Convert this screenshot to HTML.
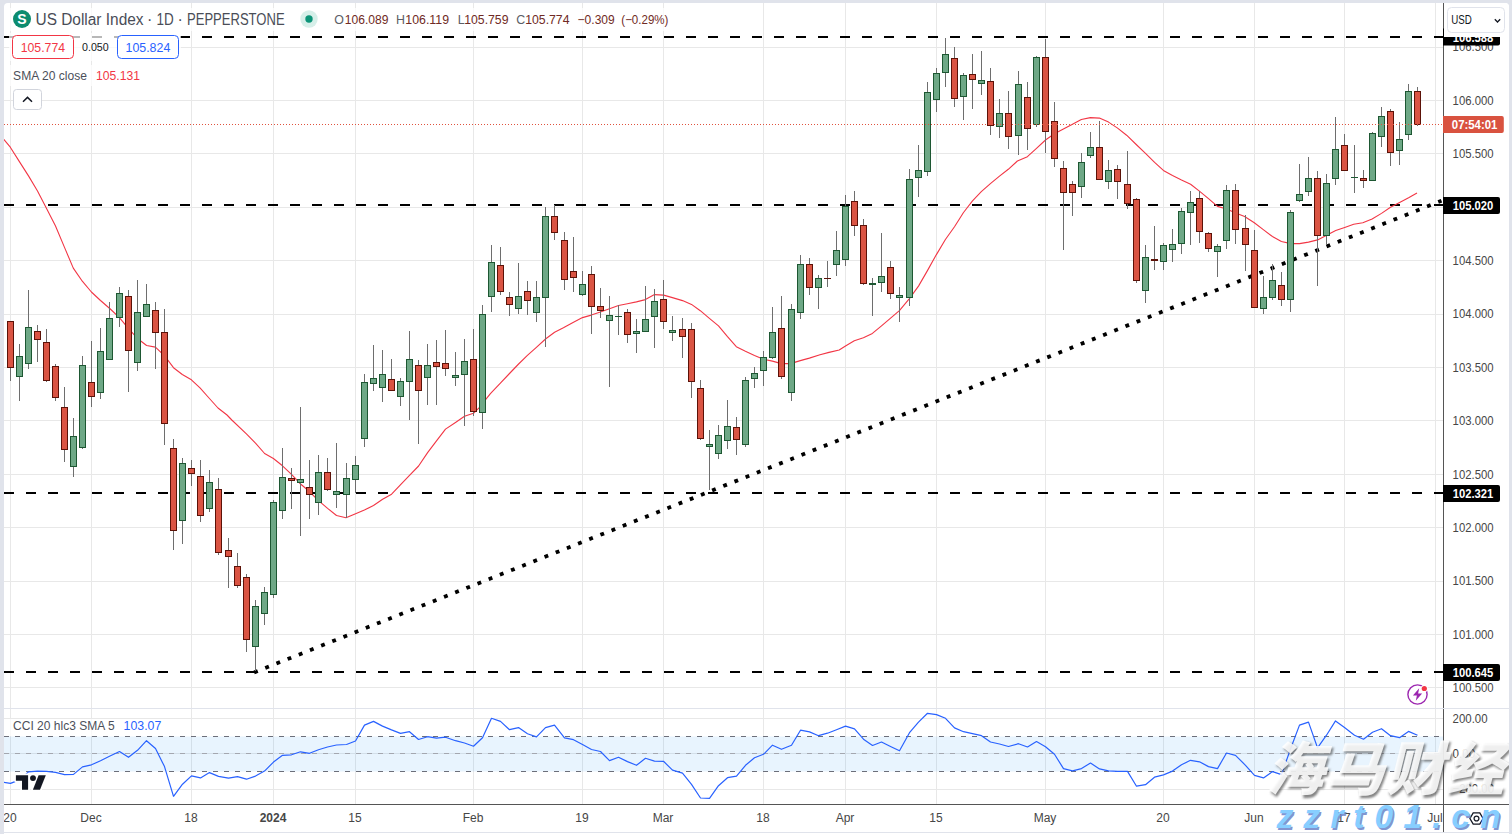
<!DOCTYPE html>
<html lang="en"><head><meta charset="utf-8"><title>US Dollar Index chart</title>
<style>
html,body{margin:0;padding:0;background:#e0e3eb;}
body{width:1512px;height:834px;overflow:hidden;position:relative;font-family:"Liberation Sans", Arial, sans-serif;}
svg{position:absolute;left:0;top:0;display:block}
text{font-family:"Liberation Sans", Arial, sans-serif;}
.ax{font-size:12.7px;fill:#464646}
.axb{font-size:12.4px;fill:#fff;font-weight:bold}
.tl{font-size:12px;fill:#464646;text-anchor:middle}
</style></head><body>
<svg width="1512" height="834" viewBox="0 0 1512 834">
<defs>
<clipPath id="cpMain"><rect x="4" y="3" width="1439.5" height="705.5"/></clipPath>
<clipPath id="cpCci"><rect x="4" y="708.5" width="1439.5" height="96.0"/></clipPath>
<clipPath id="cpTime"><rect x="4" y="804.5" width="1439.5" height="27.5"/></clipPath>
<clipPath id="cpAll"><path d="M4 834V7a4 4 0 0 1 4 -4H1505a4 4 0 0 1 4 4V834z"/></clipPath>
</defs>
<rect x="0" y="0" width="1512" height="834" fill="#e0e3eb"/>
<path d="M4 834V7a4 4 0 0 1 4 -4H1505a4 4 0 0 1 4 4V834z" fill="#fff"/>
<line x1="4" y1="832.5" x2="1509" y2="832.5" stroke="#e0e3eb" stroke-width="1" shape-rendering="crispEdges"/>

<g shape-rendering="crispEdges">
<line x1="10.5" y1="3" x2="10.5" y2="804.5" stroke="#e8e8e8" stroke-width="1"/>
<line x1="91.5" y1="3" x2="91.5" y2="804.5" stroke="#e8e8e8" stroke-width="1"/>
<line x1="191.5" y1="3" x2="191.5" y2="804.5" stroke="#e8e8e8" stroke-width="1"/>
<line x1="273.5" y1="3" x2="273.5" y2="804.5" stroke="#e8e8e8" stroke-width="1"/>
<line x1="355.5" y1="3" x2="355.5" y2="804.5" stroke="#e8e8e8" stroke-width="1"/>
<line x1="473.5" y1="3" x2="473.5" y2="804.5" stroke="#e8e8e8" stroke-width="1"/>
<line x1="582.5" y1="3" x2="582.5" y2="804.5" stroke="#e8e8e8" stroke-width="1"/>
<line x1="663.5" y1="3" x2="663.5" y2="804.5" stroke="#e8e8e8" stroke-width="1"/>
<line x1="763.5" y1="3" x2="763.5" y2="804.5" stroke="#e8e8e8" stroke-width="1"/>
<line x1="845.5" y1="3" x2="845.5" y2="804.5" stroke="#e8e8e8" stroke-width="1"/>
<line x1="936.5" y1="3" x2="936.5" y2="804.5" stroke="#e8e8e8" stroke-width="1"/>
<line x1="1045.5" y1="3" x2="1045.5" y2="804.5" stroke="#e8e8e8" stroke-width="1"/>
<line x1="1163.5" y1="3" x2="1163.5" y2="804.5" stroke="#e8e8e8" stroke-width="1"/>
<line x1="1254.5" y1="3" x2="1254.5" y2="804.5" stroke="#e8e8e8" stroke-width="1"/>
<line x1="1344.5" y1="3" x2="1344.5" y2="804.5" stroke="#e8e8e8" stroke-width="1"/>
<line x1="1435.5" y1="3" x2="1435.5" y2="804.5" stroke="#e8e8e8" stroke-width="1"/>
<line x1="4" y1="47.5" x2="1443.5" y2="47.5" stroke="#e8e8e8" stroke-width="1"/>
<line x1="4" y1="100.5" x2="1443.5" y2="100.5" stroke="#e8e8e8" stroke-width="1"/>
<line x1="4" y1="153.5" x2="1443.5" y2="153.5" stroke="#e8e8e8" stroke-width="1"/>
<line x1="4" y1="207.5" x2="1443.5" y2="207.5" stroke="#e8e8e8" stroke-width="1"/>
<line x1="4" y1="260.5" x2="1443.5" y2="260.5" stroke="#e8e8e8" stroke-width="1"/>
<line x1="4" y1="314.5" x2="1443.5" y2="314.5" stroke="#e8e8e8" stroke-width="1"/>
<line x1="4" y1="367.5" x2="1443.5" y2="367.5" stroke="#e8e8e8" stroke-width="1"/>
<line x1="4" y1="420.5" x2="1443.5" y2="420.5" stroke="#e8e8e8" stroke-width="1"/>
<line x1="4" y1="474.5" x2="1443.5" y2="474.5" stroke="#e8e8e8" stroke-width="1"/>
<line x1="4" y1="527.5" x2="1443.5" y2="527.5" stroke="#e8e8e8" stroke-width="1"/>
<line x1="4" y1="581.5" x2="1443.5" y2="581.5" stroke="#e8e8e8" stroke-width="1"/>
<line x1="4" y1="634.5" x2="1443.5" y2="634.5" stroke="#e8e8e8" stroke-width="1"/>
<line x1="4" y1="687.5" x2="1443.5" y2="687.5" stroke="#e8e8e8" stroke-width="1"/>
<line x1="4" y1="718.5" x2="1443.5" y2="718.5" stroke="#e8e8e8" stroke-width="1"/>
<line x1="4" y1="753.5" x2="1443.5" y2="753.5" stroke="#e8e8e8" stroke-width="1"/>
<line x1="4" y1="789.5" x2="1443.5" y2="789.5" stroke="#e8e8e8" stroke-width="1"/>
</g>
<g clip-path="url(#cpMain)">
<line x1="4" y1="37" x2="1443.5" y2="37" stroke="#000" stroke-width="2" stroke-dasharray="10 12"/>
<line x1="4" y1="205" x2="1443.5" y2="205" stroke="#000" stroke-width="2" stroke-dasharray="10 12"/>
<line x1="4" y1="493" x2="1443.5" y2="493" stroke="#000" stroke-width="2" stroke-dasharray="10 12"/>
<line x1="4" y1="672" x2="1443.5" y2="672" stroke="#000" stroke-width="2" stroke-dasharray="10 12"/>
<polyline points="3.5,138.9 10.3,147.2 19.4,161.6 28.5,175.9 37.5,191.0 46.3,208.1 55.4,225.8 64.5,247.4 73.3,268.1 82.3,281.2 91.4,292.0 100.5,300.5 110.3,309.0 119.4,317.6 128.4,328.4 137.5,338.5 146.6,345.5 155.4,347.1 164.4,355.6 173.5,367.7 182.3,374.5 191.4,379.8 200.0,387.9 209.0,398.0 218.0,408.0 227.0,415.0 231.8,420.0 246.4,433.9 255.5,443.2 264.6,453.5 273.4,458.5 282.5,465.8 291.5,474.4 300.6,484.0 309.4,491.5 318.5,500.6 327.6,508.4 336.5,515.5 346.0,517.7 355.6,513.8 364.4,510.1 373.5,505.5 382.6,499.2 391.6,494.2 400.4,484.9 409.5,475.3 418.6,466.0 427.6,452.6 436.5,440.8 445.5,429.1 455.5,422.5 464.5,416.3 473.5,413.3 479.0,407.8 490.4,393.7 500.4,383.1 509.5,373.5 518.6,364.0 527.4,355.4 536.4,347.3 545.5,339.0 554.6,332.2 563.4,327.7 573.5,322.2 582.5,317.6 591.3,315.1 600.4,312.1 609.5,308.8 618.5,305.5 627.4,303.7 636.4,301.9 645.4,299.6 654.5,294.6 663.6,295.1 672.4,297.6 682.5,300.6 691.5,304.4 700.3,310.7 709.4,318.3 718.5,325.8 727.5,336.7 736.3,346.7 745.4,351.3 754.5,355.5 763.5,359.3 772.4,361.1 781.4,363.6 790.5,363.6 800.3,360.6 809.4,358.1 820.0,354.8 829.0,352.4 839.2,350.0 845.5,346.0 854.3,340.7 863.4,337.7 872.4,333.4 881.5,325.8 890.3,318.3 899.4,310.7 909.4,298.6 918.5,286.1 927.3,270.9 936.4,254.6 945.4,239.5 954.5,226.7 963.5,212.5 972.5,200.8 981.3,191.7 990.4,183.6 999.5,176.1 1008.3,169.3 1017.4,161.0 1027.4,156.7 1036.5,148.4 1045.5,140.0 1054.4,133.8 1063.4,129.1 1072.5,124.3 1081.3,119.5 1090.4,117.6 1099.4,118.1 1108.5,122.1 1117.6,128.1 1126.6,135.2 1135.7,144.0 1145.5,153.3 1154.6,162.4 1163.4,170.4 1172.5,175.5 1181.5,180.0 1190.6,184.3 1199.4,191.1 1208.5,198.6 1217.5,206.4 1226.6,209.0 1235.7,213.0 1244.6,216.5 1254.3,222.8 1263.3,229.6 1272.4,236.5 1281.4,241.5 1290.8,243.6 1299.5,243.6 1308.5,242.1 1317.6,239.9 1326.6,235.2 1335.7,230.6 1344.7,227.4 1353.7,224.3 1362.8,222.8 1372.1,219.0 1381.5,213.4 1390.5,207.2 1399.6,202.5 1408.6,197.8 1417.0,193.1" fill="none" stroke="#f23645" stroke-width="1.1" stroke-linejoin="round"/>
<line x1="254.1" y1="672.4" x2="1441.5" y2="200.8" stroke="#000" stroke-width="3.8" stroke-dasharray="3.9 8.12"/>
<g shape-rendering="crispEdges">
<line x1="10.5" y1="321" x2="10.5" y2="381" stroke="#6e6e6e" stroke-width="1"/>
<rect x="7.0" y="321" width="7" height="47" fill="#5c1208"/><rect x="8.0" y="322" width="5" height="45" fill="#da5443"/>
<line x1="19.5" y1="344" x2="19.5" y2="401" stroke="#6e6e6e" stroke-width="1"/>
<rect x="16.0" y="356" width="7" height="21" fill="#1d5732"/><rect x="17.0" y="357" width="5" height="19" fill="#6ea886"/>
<line x1="28.5" y1="290" x2="28.5" y2="369" stroke="#6e6e6e" stroke-width="1"/>
<rect x="25.0" y="327" width="7" height="37" fill="#1d5732"/><rect x="26.0" y="328" width="5" height="35" fill="#6ea886"/>
<line x1="37.5" y1="325" x2="37.5" y2="362" stroke="#6e6e6e" stroke-width="1"/>
<rect x="34.0" y="331" width="7" height="9" fill="#5c1208"/><rect x="35.0" y="332" width="5" height="7" fill="#da5443"/>
<line x1="46.5" y1="329" x2="46.5" y2="382" stroke="#6e6e6e" stroke-width="1"/>
<rect x="43.0" y="342" width="7" height="39" fill="#5c1208"/><rect x="44.0" y="343" width="5" height="37" fill="#da5443"/>
<line x1="55.5" y1="364" x2="55.5" y2="401" stroke="#6e6e6e" stroke-width="1"/>
<rect x="52.0" y="366" width="7" height="32" fill="#5c1208"/><rect x="53.0" y="367" width="5" height="30" fill="#da5443"/>
<line x1="64.5" y1="387" x2="64.5" y2="462" stroke="#6e6e6e" stroke-width="1"/>
<rect x="61.0" y="407" width="7" height="43" fill="#5c1208"/><rect x="62.0" y="408" width="5" height="41" fill="#da5443"/>
<line x1="73.5" y1="418" x2="73.5" y2="477" stroke="#6e6e6e" stroke-width="1"/>
<rect x="70.0" y="436" width="7" height="31" fill="#1d5732"/><rect x="71.0" y="437" width="5" height="29" fill="#6ea886"/>
<line x1="82.5" y1="356" x2="82.5" y2="449" stroke="#6e6e6e" stroke-width="1"/>
<rect x="79.0" y="365" width="7" height="83" fill="#1d5732"/><rect x="80.0" y="366" width="5" height="81" fill="#6ea886"/>
<line x1="91.5" y1="341" x2="91.5" y2="407" stroke="#6e6e6e" stroke-width="1"/>
<rect x="88.0" y="382" width="7" height="15" fill="#5c1208"/><rect x="89.0" y="383" width="5" height="13" fill="#da5443"/>
<line x1="100.5" y1="328" x2="100.5" y2="399" stroke="#6e6e6e" stroke-width="1"/>
<rect x="97.0" y="351" width="7" height="42" fill="#1d5732"/><rect x="98.0" y="352" width="5" height="40" fill="#6ea886"/>
<line x1="109.5" y1="302" x2="109.5" y2="360" stroke="#6e6e6e" stroke-width="1"/>
<rect x="106.0" y="318" width="7" height="42" fill="#1d5732"/><rect x="107.0" y="319" width="5" height="40" fill="#6ea886"/>
<line x1="119.5" y1="287" x2="119.5" y2="327" stroke="#6e6e6e" stroke-width="1"/>
<rect x="116.0" y="293" width="7" height="25" fill="#1d5732"/><rect x="117.0" y="294" width="5" height="23" fill="#6ea886"/>
<line x1="128.5" y1="290" x2="128.5" y2="392" stroke="#6e6e6e" stroke-width="1"/>
<rect x="125.0" y="296" width="7" height="55" fill="#5c1208"/><rect x="126.0" y="297" width="5" height="53" fill="#da5443"/>
<line x1="137.5" y1="280" x2="137.5" y2="371" stroke="#6e6e6e" stroke-width="1"/>
<rect x="134.0" y="312" width="7" height="51" fill="#1d5732"/><rect x="135.0" y="313" width="5" height="49" fill="#6ea886"/>
<line x1="146.5" y1="284" x2="146.5" y2="317" stroke="#6e6e6e" stroke-width="1"/>
<rect x="143.0" y="304" width="7" height="13" fill="#1d5732"/><rect x="144.0" y="305" width="5" height="11" fill="#6ea886"/>
<line x1="155.5" y1="302" x2="155.5" y2="369" stroke="#6e6e6e" stroke-width="1"/>
<rect x="152.0" y="310" width="7" height="23" fill="#5c1208"/><rect x="153.0" y="311" width="5" height="21" fill="#da5443"/>
<line x1="164.5" y1="309" x2="164.5" y2="445" stroke="#6e6e6e" stroke-width="1"/>
<rect x="161.0" y="332" width="7" height="92" fill="#5c1208"/><rect x="162.0" y="333" width="5" height="90" fill="#da5443"/>
<line x1="173.5" y1="439" x2="173.5" y2="550" stroke="#6e6e6e" stroke-width="1"/>
<rect x="170.0" y="448" width="7" height="83" fill="#5c1208"/><rect x="171.0" y="449" width="5" height="81" fill="#da5443"/>
<line x1="182.5" y1="458" x2="182.5" y2="544" stroke="#6e6e6e" stroke-width="1"/>
<rect x="179.0" y="463" width="7" height="58" fill="#1d5732"/><rect x="180.0" y="464" width="5" height="56" fill="#6ea886"/>
<line x1="191.5" y1="460" x2="191.5" y2="486" stroke="#6e6e6e" stroke-width="1"/>
<rect x="188.0" y="468" width="7" height="6" fill="#5c1208"/><rect x="189.0" y="469" width="5" height="4" fill="#da5443"/>
<line x1="200.5" y1="460" x2="200.5" y2="522" stroke="#6e6e6e" stroke-width="1"/>
<rect x="197.0" y="476" width="7" height="40" fill="#5c1208"/><rect x="198.0" y="477" width="5" height="38" fill="#da5443"/>
<line x1="209.5" y1="470" x2="209.5" y2="512" stroke="#6e6e6e" stroke-width="1"/>
<rect x="206.0" y="482" width="7" height="27" fill="#1d5732"/><rect x="207.0" y="483" width="5" height="25" fill="#6ea886"/>
<line x1="218.5" y1="478" x2="218.5" y2="555" stroke="#6e6e6e" stroke-width="1"/>
<rect x="215.0" y="489" width="7" height="64" fill="#5c1208"/><rect x="216.0" y="490" width="5" height="62" fill="#da5443"/>
<line x1="228.5" y1="538" x2="228.5" y2="588" stroke="#6e6e6e" stroke-width="1"/>
<rect x="225.0" y="550" width="7" height="7" fill="#5c1208"/><rect x="226.0" y="551" width="5" height="5" fill="#da5443"/>
<line x1="237.5" y1="553" x2="237.5" y2="588" stroke="#6e6e6e" stroke-width="1"/>
<rect x="234.0" y="566" width="7" height="20" fill="#5c1208"/><rect x="235.0" y="567" width="5" height="18" fill="#da5443"/>
<line x1="246.5" y1="574" x2="246.5" y2="652" stroke="#6e6e6e" stroke-width="1"/>
<rect x="243.0" y="577" width="7" height="63" fill="#5c1208"/><rect x="244.0" y="578" width="5" height="61" fill="#da5443"/>
<line x1="255.5" y1="600" x2="255.5" y2="671" stroke="#6e6e6e" stroke-width="1"/>
<rect x="252.0" y="606" width="7" height="41" fill="#1d5732"/><rect x="253.0" y="607" width="5" height="39" fill="#6ea886"/>
<line x1="264.5" y1="587" x2="264.5" y2="625" stroke="#6e6e6e" stroke-width="1"/>
<rect x="261.0" y="592" width="7" height="22" fill="#1d5732"/><rect x="262.0" y="593" width="5" height="20" fill="#6ea886"/>
<line x1="273.5" y1="500" x2="273.5" y2="598" stroke="#6e6e6e" stroke-width="1"/>
<rect x="270.0" y="502" width="7" height="93" fill="#1d5732"/><rect x="271.0" y="503" width="5" height="91" fill="#6ea886"/>
<line x1="282.5" y1="448" x2="282.5" y2="519" stroke="#6e6e6e" stroke-width="1"/>
<rect x="279.0" y="477" width="7" height="34" fill="#1d5732"/><rect x="280.0" y="478" width="5" height="32" fill="#6ea886"/>
<line x1="291.5" y1="468" x2="291.5" y2="509" stroke="#6e6e6e" stroke-width="1"/>
<rect x="288.0" y="478" width="7" height="3" fill="#5c1208"/><rect x="289.0" y="479" width="5" height="1" fill="#da5443"/>
<line x1="300.5" y1="407" x2="300.5" y2="536" stroke="#6e6e6e" stroke-width="1"/>
<rect x="297.0" y="479" width="7" height="4" fill="#1d5732"/><rect x="298.0" y="480" width="5" height="2" fill="#6ea886"/>
<line x1="309.5" y1="460" x2="309.5" y2="519" stroke="#6e6e6e" stroke-width="1"/>
<rect x="306.0" y="487" width="7" height="8" fill="#5c1208"/><rect x="307.0" y="488" width="5" height="6" fill="#da5443"/>
<line x1="318.5" y1="455" x2="318.5" y2="515" stroke="#6e6e6e" stroke-width="1"/>
<rect x="315.0" y="472" width="7" height="31" fill="#1d5732"/><rect x="316.0" y="473" width="5" height="29" fill="#6ea886"/>
<line x1="327.5" y1="458" x2="327.5" y2="491" stroke="#6e6e6e" stroke-width="1"/>
<rect x="324.0" y="472" width="7" height="18" fill="#5c1208"/><rect x="325.0" y="473" width="5" height="16" fill="#da5443"/>
<line x1="336.5" y1="443" x2="336.5" y2="508" stroke="#6e6e6e" stroke-width="1"/>
<rect x="333.0" y="491" width="7" height="4" fill="#1d5732"/><rect x="334.0" y="492" width="5" height="2" fill="#6ea886"/>
<line x1="346.5" y1="463" x2="346.5" y2="518" stroke="#6e6e6e" stroke-width="1"/>
<rect x="343.0" y="478" width="7" height="17" fill="#1d5732"/><rect x="344.0" y="479" width="5" height="15" fill="#6ea886"/>
<line x1="355.5" y1="456" x2="355.5" y2="493" stroke="#6e6e6e" stroke-width="1"/>
<rect x="352.0" y="465" width="7" height="15" fill="#1d5732"/><rect x="353.0" y="466" width="5" height="13" fill="#6ea886"/>
<line x1="364.5" y1="374" x2="364.5" y2="447" stroke="#6e6e6e" stroke-width="1"/>
<rect x="361.0" y="382" width="7" height="57" fill="#1d5732"/><rect x="362.0" y="383" width="5" height="55" fill="#6ea886"/>
<line x1="373.5" y1="345" x2="373.5" y2="391" stroke="#6e6e6e" stroke-width="1"/>
<rect x="370.0" y="378" width="7" height="6" fill="#1d5732"/><rect x="371.0" y="379" width="5" height="4" fill="#6ea886"/>
<line x1="382.5" y1="350" x2="382.5" y2="402" stroke="#6e6e6e" stroke-width="1"/>
<rect x="379.0" y="374" width="7" height="14" fill="#1d5732"/><rect x="380.0" y="375" width="5" height="12" fill="#6ea886"/>
<line x1="391.5" y1="359" x2="391.5" y2="391" stroke="#6e6e6e" stroke-width="1"/>
<rect x="388.0" y="379" width="7" height="12" fill="#5c1208"/><rect x="389.0" y="380" width="5" height="10" fill="#da5443"/>
<line x1="400.5" y1="378" x2="400.5" y2="406" stroke="#6e6e6e" stroke-width="1"/>
<rect x="397.0" y="381" width="7" height="16" fill="#1d5732"/><rect x="398.0" y="382" width="5" height="14" fill="#6ea886"/>
<line x1="409.5" y1="331" x2="409.5" y2="420" stroke="#6e6e6e" stroke-width="1"/>
<rect x="406.0" y="359" width="7" height="23" fill="#1d5732"/><rect x="407.0" y="360" width="5" height="21" fill="#6ea886"/>
<line x1="418.5" y1="360" x2="418.5" y2="444" stroke="#6e6e6e" stroke-width="1"/>
<rect x="415.0" y="365" width="7" height="26" fill="#5c1208"/><rect x="416.0" y="366" width="5" height="24" fill="#da5443"/>
<line x1="427.5" y1="344" x2="427.5" y2="405" stroke="#6e6e6e" stroke-width="1"/>
<rect x="424.0" y="365" width="7" height="13" fill="#1d5732"/><rect x="425.0" y="366" width="5" height="11" fill="#6ea886"/>
<line x1="436.5" y1="340" x2="436.5" y2="405" stroke="#6e6e6e" stroke-width="1"/>
<rect x="433.0" y="362" width="7" height="5" fill="#5c1208"/><rect x="434.0" y="363" width="5" height="3" fill="#da5443"/>
<line x1="445.5" y1="330" x2="445.5" y2="376" stroke="#6e6e6e" stroke-width="1"/>
<rect x="442.0" y="363" width="7" height="6" fill="#5c1208"/><rect x="443.0" y="364" width="5" height="4" fill="#da5443"/>
<line x1="455.5" y1="352" x2="455.5" y2="386" stroke="#6e6e6e" stroke-width="1"/>
<rect x="452.0" y="375" width="7" height="3" fill="#1d5732"/><rect x="453.0" y="376" width="5" height="1" fill="#6ea886"/>
<line x1="464.5" y1="339" x2="464.5" y2="426" stroke="#6e6e6e" stroke-width="1"/>
<rect x="461.0" y="361" width="7" height="14" fill="#1d5732"/><rect x="462.0" y="362" width="5" height="12" fill="#6ea886"/>
<line x1="473.5" y1="329" x2="473.5" y2="416" stroke="#6e6e6e" stroke-width="1"/>
<rect x="470.0" y="359" width="7" height="53" fill="#5c1208"/><rect x="471.0" y="360" width="5" height="51" fill="#da5443"/>
<line x1="482.5" y1="305" x2="482.5" y2="429" stroke="#6e6e6e" stroke-width="1"/>
<rect x="479.0" y="314" width="7" height="99" fill="#1d5732"/><rect x="480.0" y="315" width="5" height="97" fill="#6ea886"/>
<line x1="491.5" y1="245" x2="491.5" y2="312" stroke="#6e6e6e" stroke-width="1"/>
<rect x="488.0" y="262" width="7" height="35" fill="#1d5732"/><rect x="489.0" y="263" width="5" height="33" fill="#6ea886"/>
<line x1="500.5" y1="247" x2="500.5" y2="295" stroke="#6e6e6e" stroke-width="1"/>
<rect x="497.0" y="265" width="7" height="27" fill="#5c1208"/><rect x="498.0" y="266" width="5" height="25" fill="#da5443"/>
<line x1="509.5" y1="292" x2="509.5" y2="316" stroke="#6e6e6e" stroke-width="1"/>
<rect x="506.0" y="297" width="7" height="8" fill="#5c1208"/><rect x="507.0" y="298" width="5" height="6" fill="#da5443"/>
<line x1="518.5" y1="263" x2="518.5" y2="314" stroke="#6e6e6e" stroke-width="1"/>
<rect x="515.0" y="296" width="7" height="13" fill="#1d5732"/><rect x="516.0" y="297" width="5" height="11" fill="#6ea886"/>
<line x1="527.5" y1="281" x2="527.5" y2="315" stroke="#6e6e6e" stroke-width="1"/>
<rect x="524.0" y="291" width="7" height="10" fill="#5c1208"/><rect x="525.0" y="292" width="5" height="8" fill="#da5443"/>
<line x1="536.5" y1="281" x2="536.5" y2="322" stroke="#6e6e6e" stroke-width="1"/>
<rect x="533.0" y="297" width="7" height="16" fill="#1d5732"/><rect x="534.0" y="298" width="5" height="14" fill="#6ea886"/>
<line x1="545.5" y1="207" x2="545.5" y2="347" stroke="#6e6e6e" stroke-width="1"/>
<rect x="542.0" y="216" width="7" height="82" fill="#1d5732"/><rect x="543.0" y="217" width="5" height="80" fill="#6ea886"/>
<line x1="554.5" y1="205" x2="554.5" y2="240" stroke="#6e6e6e" stroke-width="1"/>
<rect x="551.0" y="216" width="7" height="17" fill="#5c1208"/><rect x="552.0" y="217" width="5" height="15" fill="#da5443"/>
<line x1="564.5" y1="232" x2="564.5" y2="290" stroke="#6e6e6e" stroke-width="1"/>
<rect x="561.0" y="240" width="7" height="40" fill="#5c1208"/><rect x="562.0" y="241" width="5" height="38" fill="#da5443"/>
<line x1="573.5" y1="237" x2="573.5" y2="292" stroke="#6e6e6e" stroke-width="1"/>
<rect x="570.0" y="271" width="7" height="7" fill="#5c1208"/><rect x="571.0" y="272" width="5" height="5" fill="#da5443"/>
<line x1="582.5" y1="271" x2="582.5" y2="296" stroke="#6e6e6e" stroke-width="1"/>
<rect x="579.0" y="284" width="7" height="11" fill="#1d5732"/><rect x="580.0" y="285" width="5" height="9" fill="#6ea886"/>
<line x1="591.5" y1="266" x2="591.5" y2="334" stroke="#6e6e6e" stroke-width="1"/>
<rect x="588.0" y="274" width="7" height="33" fill="#5c1208"/><rect x="589.0" y="275" width="5" height="31" fill="#da5443"/>
<line x1="600.5" y1="288" x2="600.5" y2="318" stroke="#6e6e6e" stroke-width="1"/>
<rect x="597.0" y="306" width="7" height="5" fill="#5c1208"/><rect x="598.0" y="307" width="5" height="3" fill="#da5443"/>
<line x1="609.5" y1="296" x2="609.5" y2="387" stroke="#6e6e6e" stroke-width="1"/>
<rect x="606.0" y="315" width="7" height="6" fill="#1d5732"/><rect x="607.0" y="316" width="5" height="4" fill="#6ea886"/>
<line x1="618.5" y1="305" x2="618.5" y2="335" stroke="#6e6e6e" stroke-width="1"/>
<rect x="615.0" y="316" width="7" height="1" fill="#1d5732"/>
<line x1="627.5" y1="309" x2="627.5" y2="343" stroke="#6e6e6e" stroke-width="1"/>
<rect x="624.0" y="312" width="7" height="23" fill="#5c1208"/><rect x="625.0" y="313" width="5" height="21" fill="#da5443"/>
<line x1="636.5" y1="319" x2="636.5" y2="353" stroke="#6e6e6e" stroke-width="1"/>
<rect x="633.0" y="331" width="7" height="3" fill="#1d5732"/><rect x="634.0" y="332" width="5" height="1" fill="#6ea886"/>
<line x1="645.5" y1="286" x2="645.5" y2="332" stroke="#6e6e6e" stroke-width="1"/>
<rect x="642.0" y="319" width="7" height="13" fill="#1d5732"/><rect x="643.0" y="320" width="5" height="11" fill="#6ea886"/>
<line x1="654.5" y1="289" x2="654.5" y2="348" stroke="#6e6e6e" stroke-width="1"/>
<rect x="651.0" y="301" width="7" height="16" fill="#1d5732"/><rect x="652.0" y="302" width="5" height="14" fill="#6ea886"/>
<line x1="663.5" y1="280" x2="663.5" y2="329" stroke="#6e6e6e" stroke-width="1"/>
<rect x="660.0" y="299" width="7" height="23" fill="#5c1208"/><rect x="661.0" y="300" width="5" height="21" fill="#da5443"/>
<line x1="672.5" y1="316" x2="672.5" y2="341" stroke="#6e6e6e" stroke-width="1"/>
<rect x="669.0" y="330" width="7" height="3" fill="#1d5732"/><rect x="670.0" y="331" width="5" height="1" fill="#6ea886"/>
<line x1="682.5" y1="318" x2="682.5" y2="358" stroke="#6e6e6e" stroke-width="1"/>
<rect x="679.0" y="329" width="7" height="8" fill="#5c1208"/><rect x="680.0" y="330" width="5" height="6" fill="#da5443"/>
<line x1="691.5" y1="323" x2="691.5" y2="398" stroke="#6e6e6e" stroke-width="1"/>
<rect x="688.0" y="329" width="7" height="53" fill="#5c1208"/><rect x="689.0" y="330" width="5" height="51" fill="#da5443"/>
<line x1="700.5" y1="380" x2="700.5" y2="440" stroke="#6e6e6e" stroke-width="1"/>
<rect x="697.0" y="388" width="7" height="51" fill="#5c1208"/><rect x="698.0" y="389" width="5" height="49" fill="#da5443"/>
<line x1="709.5" y1="430" x2="709.5" y2="490" stroke="#6e6e6e" stroke-width="1"/>
<rect x="706.0" y="444" width="7" height="3" fill="#1d5732"/><rect x="707.0" y="445" width="5" height="1" fill="#6ea886"/>
<line x1="718.5" y1="425" x2="718.5" y2="459" stroke="#6e6e6e" stroke-width="1"/>
<rect x="715.0" y="435" width="7" height="19" fill="#1d5732"/><rect x="716.0" y="436" width="5" height="17" fill="#6ea886"/>
<line x1="727.5" y1="400" x2="727.5" y2="449" stroke="#6e6e6e" stroke-width="1"/>
<rect x="724.0" y="426" width="7" height="15" fill="#1d5732"/><rect x="725.0" y="427" width="5" height="13" fill="#6ea886"/>
<line x1="736.5" y1="417" x2="736.5" y2="455" stroke="#6e6e6e" stroke-width="1"/>
<rect x="733.0" y="427" width="7" height="13" fill="#5c1208"/><rect x="734.0" y="428" width="5" height="11" fill="#da5443"/>
<line x1="745.5" y1="377" x2="745.5" y2="447" stroke="#6e6e6e" stroke-width="1"/>
<rect x="742.0" y="380" width="7" height="65" fill="#1d5732"/><rect x="743.0" y="381" width="5" height="63" fill="#6ea886"/>
<line x1="754.5" y1="367" x2="754.5" y2="388" stroke="#6e6e6e" stroke-width="1"/>
<rect x="751.0" y="373" width="7" height="6" fill="#1d5732"/><rect x="752.0" y="374" width="5" height="4" fill="#6ea886"/>
<line x1="763.5" y1="351" x2="763.5" y2="386" stroke="#6e6e6e" stroke-width="1"/>
<rect x="760.0" y="357" width="7" height="14" fill="#1d5732"/><rect x="761.0" y="358" width="5" height="12" fill="#6ea886"/>
<line x1="772.5" y1="307" x2="772.5" y2="359" stroke="#6e6e6e" stroke-width="1"/>
<rect x="769.0" y="332" width="7" height="26" fill="#1d5732"/><rect x="770.0" y="333" width="5" height="24" fill="#6ea886"/>
<line x1="781.5" y1="296" x2="781.5" y2="379" stroke="#6e6e6e" stroke-width="1"/>
<rect x="778.0" y="328" width="7" height="49" fill="#5c1208"/><rect x="779.0" y="329" width="5" height="47" fill="#da5443"/>
<line x1="791.5" y1="304" x2="791.5" y2="401" stroke="#6e6e6e" stroke-width="1"/>
<rect x="788.0" y="309" width="7" height="84" fill="#1d5732"/><rect x="789.0" y="310" width="5" height="82" fill="#6ea886"/>
<line x1="800.5" y1="255" x2="800.5" y2="319" stroke="#6e6e6e" stroke-width="1"/>
<rect x="797.0" y="264" width="7" height="49" fill="#1d5732"/><rect x="798.0" y="265" width="5" height="47" fill="#6ea886"/>
<line x1="809.5" y1="258" x2="809.5" y2="295" stroke="#6e6e6e" stroke-width="1"/>
<rect x="806.0" y="264" width="7" height="24" fill="#5c1208"/><rect x="807.0" y="265" width="5" height="22" fill="#da5443"/>
<line x1="818.5" y1="275" x2="818.5" y2="309" stroke="#6e6e6e" stroke-width="1"/>
<rect x="815.0" y="278" width="7" height="10" fill="#1d5732"/><rect x="816.0" y="279" width="5" height="8" fill="#6ea886"/>
<line x1="827.5" y1="261" x2="827.5" y2="287" stroke="#6e6e6e" stroke-width="1"/>
<rect x="824.0" y="278" width="7" height="1" fill="#5c1208"/>
<line x1="836.5" y1="231" x2="836.5" y2="276" stroke="#6e6e6e" stroke-width="1"/>
<rect x="833.0" y="250" width="7" height="15" fill="#1d5732"/><rect x="834.0" y="251" width="5" height="13" fill="#6ea886"/>
<line x1="845.5" y1="195" x2="845.5" y2="266" stroke="#6e6e6e" stroke-width="1"/>
<rect x="842.0" y="206" width="7" height="54" fill="#1d5732"/><rect x="843.0" y="207" width="5" height="52" fill="#6ea886"/>
<line x1="854.5" y1="191" x2="854.5" y2="236" stroke="#6e6e6e" stroke-width="1"/>
<rect x="851.0" y="201" width="7" height="25" fill="#5c1208"/><rect x="852.0" y="202" width="5" height="23" fill="#da5443"/>
<line x1="863.5" y1="219" x2="863.5" y2="285" stroke="#6e6e6e" stroke-width="1"/>
<rect x="860.0" y="225" width="7" height="59" fill="#5c1208"/><rect x="861.0" y="226" width="5" height="57" fill="#da5443"/>
<line x1="872.5" y1="278" x2="872.5" y2="316" stroke="#6e6e6e" stroke-width="1"/>
<rect x="869.0" y="283" width="7" height="2" fill="#1d5732"/>
<line x1="881.5" y1="233" x2="881.5" y2="292" stroke="#6e6e6e" stroke-width="1"/>
<rect x="878.0" y="276" width="7" height="7" fill="#1d5732"/><rect x="879.0" y="277" width="5" height="5" fill="#6ea886"/>
<line x1="890.5" y1="261" x2="890.5" y2="299" stroke="#6e6e6e" stroke-width="1"/>
<rect x="887.0" y="267" width="7" height="27" fill="#5c1208"/><rect x="888.0" y="268" width="5" height="25" fill="#da5443"/>
<line x1="899.5" y1="287" x2="899.5" y2="322" stroke="#6e6e6e" stroke-width="1"/>
<rect x="896.0" y="295" width="7" height="3" fill="#1d5732"/><rect x="897.0" y="296" width="5" height="1" fill="#6ea886"/>
<line x1="909.5" y1="169" x2="909.5" y2="306" stroke="#6e6e6e" stroke-width="1"/>
<rect x="906.0" y="179" width="7" height="119" fill="#1d5732"/><rect x="907.0" y="180" width="5" height="117" fill="#6ea886"/>
<line x1="918.5" y1="145" x2="918.5" y2="197" stroke="#6e6e6e" stroke-width="1"/>
<rect x="915.0" y="170" width="7" height="8" fill="#1d5732"/><rect x="916.0" y="171" width="5" height="6" fill="#6ea886"/>
<line x1="927.5" y1="82" x2="927.5" y2="176" stroke="#6e6e6e" stroke-width="1"/>
<rect x="924.0" y="92" width="7" height="80" fill="#1d5732"/><rect x="925.0" y="93" width="5" height="78" fill="#6ea886"/>
<line x1="936.5" y1="68" x2="936.5" y2="112" stroke="#6e6e6e" stroke-width="1"/>
<rect x="933.0" y="73" width="7" height="27" fill="#1d5732"/><rect x="934.0" y="74" width="5" height="25" fill="#6ea886"/>
<line x1="945.5" y1="38" x2="945.5" y2="87" stroke="#6e6e6e" stroke-width="1"/>
<rect x="942.0" y="54" width="7" height="19" fill="#1d5732"/><rect x="943.0" y="55" width="5" height="17" fill="#6ea886"/>
<line x1="954.5" y1="47" x2="954.5" y2="107" stroke="#6e6e6e" stroke-width="1"/>
<rect x="951.0" y="58" width="7" height="41" fill="#5c1208"/><rect x="952.0" y="59" width="5" height="39" fill="#da5443"/>
<line x1="963.5" y1="73" x2="963.5" y2="120" stroke="#6e6e6e" stroke-width="1"/>
<rect x="960.0" y="75" width="7" height="22" fill="#1d5732"/><rect x="961.0" y="76" width="5" height="20" fill="#6ea886"/>
<line x1="972.5" y1="54" x2="972.5" y2="109" stroke="#6e6e6e" stroke-width="1"/>
<rect x="969.0" y="74" width="7" height="6" fill="#5c1208"/><rect x="970.0" y="75" width="5" height="4" fill="#da5443"/>
<line x1="981.5" y1="51" x2="981.5" y2="95" stroke="#6e6e6e" stroke-width="1"/>
<rect x="978.0" y="80" width="7" height="4" fill="#1d5732"/><rect x="979.0" y="81" width="5" height="2" fill="#6ea886"/>
<line x1="990.5" y1="68" x2="990.5" y2="135" stroke="#6e6e6e" stroke-width="1"/>
<rect x="987.0" y="81" width="7" height="45" fill="#5c1208"/><rect x="988.0" y="82" width="5" height="43" fill="#da5443"/>
<line x1="999.5" y1="99" x2="999.5" y2="138" stroke="#6e6e6e" stroke-width="1"/>
<rect x="996.0" y="113" width="7" height="14" fill="#1d5732"/><rect x="997.0" y="114" width="5" height="12" fill="#6ea886"/>
<line x1="1008.5" y1="91" x2="1008.5" y2="149" stroke="#6e6e6e" stroke-width="1"/>
<rect x="1005.0" y="113" width="7" height="24" fill="#5c1208"/><rect x="1006.0" y="114" width="5" height="22" fill="#da5443"/>
<line x1="1018.5" y1="71" x2="1018.5" y2="155" stroke="#6e6e6e" stroke-width="1"/>
<rect x="1015.0" y="84" width="7" height="52" fill="#1d5732"/><rect x="1016.0" y="85" width="5" height="50" fill="#6ea886"/>
<line x1="1027.5" y1="82" x2="1027.5" y2="150" stroke="#6e6e6e" stroke-width="1"/>
<rect x="1024.0" y="97" width="7" height="32" fill="#5c1208"/><rect x="1025.0" y="98" width="5" height="30" fill="#da5443"/>
<line x1="1036.5" y1="56" x2="1036.5" y2="127" stroke="#6e6e6e" stroke-width="1"/>
<rect x="1033.0" y="57" width="7" height="68" fill="#1d5732"/><rect x="1034.0" y="58" width="5" height="66" fill="#6ea886"/>
<line x1="1045.5" y1="39" x2="1045.5" y2="153" stroke="#6e6e6e" stroke-width="1"/>
<rect x="1042.0" y="57" width="7" height="75" fill="#5c1208"/><rect x="1043.0" y="58" width="5" height="73" fill="#da5443"/>
<line x1="1054.5" y1="102" x2="1054.5" y2="167" stroke="#6e6e6e" stroke-width="1"/>
<rect x="1051.0" y="121" width="7" height="38" fill="#5c1208"/><rect x="1052.0" y="122" width="5" height="36" fill="#da5443"/>
<line x1="1063.5" y1="161" x2="1063.5" y2="250" stroke="#6e6e6e" stroke-width="1"/>
<rect x="1060.0" y="168" width="7" height="25" fill="#5c1208"/><rect x="1061.0" y="169" width="5" height="23" fill="#da5443"/>
<line x1="1072.5" y1="181" x2="1072.5" y2="216" stroke="#6e6e6e" stroke-width="1"/>
<rect x="1069.0" y="184" width="7" height="9" fill="#5c1208"/><rect x="1070.0" y="185" width="5" height="7" fill="#da5443"/>
<line x1="1081.5" y1="153" x2="1081.5" y2="198" stroke="#6e6e6e" stroke-width="1"/>
<rect x="1078.0" y="162" width="7" height="25" fill="#1d5732"/><rect x="1079.0" y="163" width="5" height="23" fill="#6ea886"/>
<line x1="1090.5" y1="132" x2="1090.5" y2="158" stroke="#6e6e6e" stroke-width="1"/>
<rect x="1087.0" y="147" width="7" height="9" fill="#1d5732"/><rect x="1088.0" y="148" width="5" height="7" fill="#6ea886"/>
<line x1="1099.5" y1="121" x2="1099.5" y2="180" stroke="#6e6e6e" stroke-width="1"/>
<rect x="1096.0" y="147" width="7" height="33" fill="#5c1208"/><rect x="1097.0" y="148" width="5" height="31" fill="#da5443"/>
<line x1="1108.5" y1="160" x2="1108.5" y2="189" stroke="#6e6e6e" stroke-width="1"/>
<rect x="1105.0" y="170" width="7" height="12" fill="#1d5732"/><rect x="1106.0" y="171" width="5" height="10" fill="#6ea886"/>
<line x1="1117.5" y1="165" x2="1117.5" y2="199" stroke="#6e6e6e" stroke-width="1"/>
<rect x="1114.0" y="169" width="7" height="13" fill="#5c1208"/><rect x="1115.0" y="170" width="5" height="11" fill="#da5443"/>
<line x1="1127.5" y1="151" x2="1127.5" y2="209" stroke="#6e6e6e" stroke-width="1"/>
<rect x="1124.0" y="184" width="7" height="20" fill="#5c1208"/><rect x="1125.0" y="185" width="5" height="18" fill="#da5443"/>
<line x1="1136.5" y1="198" x2="1136.5" y2="283" stroke="#6e6e6e" stroke-width="1"/>
<rect x="1133.0" y="199" width="7" height="82" fill="#5c1208"/><rect x="1134.0" y="200" width="5" height="80" fill="#da5443"/>
<line x1="1145.5" y1="245" x2="1145.5" y2="303" stroke="#6e6e6e" stroke-width="1"/>
<rect x="1142.0" y="257" width="7" height="34" fill="#1d5732"/><rect x="1143.0" y="258" width="5" height="32" fill="#6ea886"/>
<line x1="1154.5" y1="226" x2="1154.5" y2="270" stroke="#6e6e6e" stroke-width="1"/>
<rect x="1151.0" y="259" width="7" height="2" fill="#5c1208"/>
<line x1="1163.5" y1="243" x2="1163.5" y2="270" stroke="#6e6e6e" stroke-width="1"/>
<rect x="1160.0" y="245" width="7" height="17" fill="#1d5732"/><rect x="1161.0" y="246" width="5" height="15" fill="#6ea886"/>
<line x1="1172.5" y1="229" x2="1172.5" y2="262" stroke="#6e6e6e" stroke-width="1"/>
<rect x="1169.0" y="244" width="7" height="6" fill="#1d5732"/><rect x="1170.0" y="245" width="5" height="4" fill="#6ea886"/>
<line x1="1181.5" y1="208" x2="1181.5" y2="254" stroke="#6e6e6e" stroke-width="1"/>
<rect x="1178.0" y="211" width="7" height="33" fill="#1d5732"/><rect x="1179.0" y="212" width="5" height="31" fill="#6ea886"/>
<line x1="1190.5" y1="191" x2="1190.5" y2="245" stroke="#6e6e6e" stroke-width="1"/>
<rect x="1187.0" y="202" width="7" height="11" fill="#1d5732"/><rect x="1188.0" y="203" width="5" height="9" fill="#6ea886"/>
<line x1="1199.5" y1="191" x2="1199.5" y2="243" stroke="#6e6e6e" stroke-width="1"/>
<rect x="1196.0" y="198" width="7" height="34" fill="#5c1208"/><rect x="1197.0" y="199" width="5" height="32" fill="#da5443"/>
<line x1="1208.5" y1="232" x2="1208.5" y2="252" stroke="#6e6e6e" stroke-width="1"/>
<rect x="1205.0" y="233" width="7" height="16" fill="#5c1208"/><rect x="1206.0" y="234" width="5" height="14" fill="#da5443"/>
<line x1="1217.5" y1="244" x2="1217.5" y2="277" stroke="#6e6e6e" stroke-width="1"/>
<rect x="1214.0" y="246" width="7" height="6" fill="#1d5732"/><rect x="1215.0" y="247" width="5" height="4" fill="#6ea886"/>
<line x1="1226.5" y1="185" x2="1226.5" y2="249" stroke="#6e6e6e" stroke-width="1"/>
<rect x="1223.0" y="190" width="7" height="51" fill="#1d5732"/><rect x="1224.0" y="191" width="5" height="49" fill="#6ea886"/>
<line x1="1235.5" y1="184" x2="1235.5" y2="244" stroke="#6e6e6e" stroke-width="1"/>
<rect x="1232.0" y="190" width="7" height="40" fill="#5c1208"/><rect x="1233.0" y="191" width="5" height="38" fill="#da5443"/>
<line x1="1245.5" y1="215" x2="1245.5" y2="271" stroke="#6e6e6e" stroke-width="1"/>
<rect x="1242.0" y="228" width="7" height="17" fill="#5c1208"/><rect x="1243.0" y="229" width="5" height="15" fill="#da5443"/>
<line x1="1254.5" y1="230" x2="1254.5" y2="308" stroke="#6e6e6e" stroke-width="1"/>
<rect x="1251.0" y="250" width="7" height="58" fill="#5c1208"/><rect x="1252.0" y="251" width="5" height="56" fill="#da5443"/>
<line x1="1263.5" y1="276" x2="1263.5" y2="314" stroke="#6e6e6e" stroke-width="1"/>
<rect x="1260.0" y="297" width="7" height="12" fill="#1d5732"/><rect x="1261.0" y="298" width="5" height="10" fill="#6ea886"/>
<line x1="1272.5" y1="264" x2="1272.5" y2="300" stroke="#6e6e6e" stroke-width="1"/>
<rect x="1269.0" y="280" width="7" height="18" fill="#1d5732"/><rect x="1270.0" y="281" width="5" height="16" fill="#6ea886"/>
<line x1="1281.5" y1="272" x2="1281.5" y2="306" stroke="#6e6e6e" stroke-width="1"/>
<rect x="1278.0" y="285" width="7" height="15" fill="#5c1208"/><rect x="1279.0" y="286" width="5" height="13" fill="#da5443"/>
<line x1="1290.5" y1="210" x2="1290.5" y2="312" stroke="#6e6e6e" stroke-width="1"/>
<rect x="1287.0" y="212" width="7" height="88" fill="#1d5732"/><rect x="1288.0" y="213" width="5" height="86" fill="#6ea886"/>
<line x1="1299.5" y1="164" x2="1299.5" y2="202" stroke="#6e6e6e" stroke-width="1"/>
<rect x="1296.0" y="194" width="7" height="7" fill="#1d5732"/><rect x="1297.0" y="195" width="5" height="5" fill="#6ea886"/>
<line x1="1308.5" y1="157" x2="1308.5" y2="196" stroke="#6e6e6e" stroke-width="1"/>
<rect x="1305.0" y="178" width="7" height="14" fill="#1d5732"/><rect x="1306.0" y="179" width="5" height="12" fill="#6ea886"/>
<line x1="1317.5" y1="171" x2="1317.5" y2="286" stroke="#6e6e6e" stroke-width="1"/>
<rect x="1314.0" y="178" width="7" height="58" fill="#5c1208"/><rect x="1315.0" y="179" width="5" height="56" fill="#da5443"/>
<line x1="1326.5" y1="174" x2="1326.5" y2="245" stroke="#6e6e6e" stroke-width="1"/>
<rect x="1323.0" y="183" width="7" height="53" fill="#1d5732"/><rect x="1324.0" y="184" width="5" height="51" fill="#6ea886"/>
<line x1="1335.5" y1="117" x2="1335.5" y2="185" stroke="#6e6e6e" stroke-width="1"/>
<rect x="1332.0" y="149" width="7" height="30" fill="#1d5732"/><rect x="1333.0" y="150" width="5" height="28" fill="#6ea886"/>
<line x1="1344.5" y1="134" x2="1344.5" y2="171" stroke="#6e6e6e" stroke-width="1"/>
<rect x="1341.0" y="145" width="7" height="26" fill="#5c1208"/><rect x="1342.0" y="146" width="5" height="24" fill="#da5443"/>
<line x1="1354.5" y1="145" x2="1354.5" y2="193" stroke="#6e6e6e" stroke-width="1"/>
<rect x="1351.0" y="177" width="7" height="1" fill="#1d5732"/>
<line x1="1363.5" y1="170" x2="1363.5" y2="188" stroke="#6e6e6e" stroke-width="1"/>
<rect x="1360.0" y="178" width="7" height="3" fill="#5c1208"/><rect x="1361.0" y="179" width="5" height="1" fill="#da5443"/>
<line x1="1372.5" y1="132" x2="1372.5" y2="181" stroke="#6e6e6e" stroke-width="1"/>
<rect x="1369.0" y="133" width="7" height="48" fill="#1d5732"/><rect x="1370.0" y="134" width="5" height="46" fill="#6ea886"/>
<line x1="1381.5" y1="107" x2="1381.5" y2="147" stroke="#6e6e6e" stroke-width="1"/>
<rect x="1378.0" y="116" width="7" height="21" fill="#1d5732"/><rect x="1379.0" y="117" width="5" height="19" fill="#6ea886"/>
<line x1="1390.5" y1="109" x2="1390.5" y2="166" stroke="#6e6e6e" stroke-width="1"/>
<rect x="1387.0" y="111" width="7" height="42" fill="#5c1208"/><rect x="1388.0" y="112" width="5" height="40" fill="#da5443"/>
<line x1="1399.5" y1="122" x2="1399.5" y2="165" stroke="#6e6e6e" stroke-width="1"/>
<rect x="1396.0" y="139" width="7" height="12" fill="#1d5732"/><rect x="1397.0" y="140" width="5" height="10" fill="#6ea886"/>
<line x1="1408.5" y1="84" x2="1408.5" y2="140" stroke="#6e6e6e" stroke-width="1"/>
<rect x="1405.0" y="91" width="7" height="44" fill="#1d5732"/><rect x="1406.0" y="92" width="5" height="42" fill="#6ea886"/>
<line x1="1417.5" y1="87" x2="1417.5" y2="126" stroke="#6e6e6e" stroke-width="1"/>
<rect x="1414.0" y="91" width="7" height="34" fill="#5c1208"/><rect x="1415.0" y="92" width="5" height="32" fill="#da5443"/>
</g>
<line x1="4" y1="124.5" x2="1443.5" y2="124.5" stroke="#e0533e" stroke-width="1" stroke-dasharray="1 2" shape-rendering="crispEdges"/>
</g>
<g clip-path="url(#cpCci)">
<rect x="4" y="736.5" width="1439.5" height="35" fill="#2196f3" fill-opacity="0.1"/>
<line x1="-6.7" y1="736.5" x2="1443.5" y2="736.5" stroke="#6c6f7a" stroke-width="1" stroke-dasharray="5 6" shape-rendering="crispEdges"/>
<line x1="-6.7" y1="753.5" x2="1443.5" y2="753.5" stroke="#a4a7af" stroke-width="1" stroke-dasharray="5 6" shape-rendering="crispEdges"/>
<line x1="-6.7" y1="771.5" x2="1443.5" y2="771.5" stroke="#6c6f7a" stroke-width="1" stroke-dasharray="5 6" shape-rendering="crispEdges"/>
<polyline points="4,782.4 10.5,783.4 19.5,779.9 28.5,771.9 37.5,771.1 46.5,771.4 55.5,772.4 64.5,774.6 73.5,774.4 82.5,766.9 91.5,764.8 100.5,760.8 109.5,756.3 119.5,751.5 128.5,757.3 137.5,750.3 146.5,740.7 155.5,748.5 164.5,766.6 173.5,796.3 182.5,784.2 191.5,775.9 200.5,777.9 209.5,772.6 218.5,776.4 228.5,778.2 237.5,776.7 246.5,779.2 255.5,776.1 264.5,771.1 273.5,762.1 282.5,755.3 291.5,754.8 300.5,751.8 309.5,753.3 318.5,749.8 327.5,747.0 336.5,745.0 346.5,744.5 355.5,741.0 364.5,725.1 373.5,721.4 382.5,726.1 391.5,729.9 400.5,733.4 409.5,731.7 418.5,739.5 427.5,736.7 436.5,738.2 445.5,737.2 455.5,740.7 464.5,743.0 473.5,746.2 482.5,737.7 491.5,718.3 500.5,721.4 509.5,729.7 518.5,727.6 527.5,733.7 536.5,736.9 545.5,727.6 554.5,725.1 564.5,737.9 573.5,739.7 582.5,744.5 591.5,749.5 600.5,751.5 609.5,760.6 618.5,757.3 627.5,761.6 636.5,765.3 645.5,758.3 654.5,761.1 663.5,761.3 672.5,770.1 682.5,773.1 691.5,784.4 700.5,798.0 709.5,798.3 718.5,785.7 727.5,777.7 736.5,776.1 745.5,765.3 754.5,757.8 763.5,754.3 772.5,745.2 781.5,749.3 791.5,745.2 800.5,730.2 809.5,731.9 818.5,735.7 827.5,733.2 836.5,729.7 845.5,726.1 854.5,728.9 863.5,739.2 872.5,745.5 881.5,742.0 890.5,746.5 899.5,750.8 909.5,732.7 918.5,722.1 927.5,713.3 936.5,714.6 945.5,718.3 954.5,727.9 963.5,731.7 972.5,733.7 981.5,735.7 990.5,742.0 999.5,744.0 1008.5,746.5 1018.5,743.7 1027.5,747.0 1036.5,741.5 1045.5,746.7 1054.5,754.3 1063.5,768.6 1072.5,770.9 1081.5,768.6 1090.5,763.1 1099.5,768.9 1108.5,770.9 1117.5,771.4 1127.5,771.4 1136.5,786.2 1145.5,784.7 1154.5,777.2 1163.5,774.9 1172.5,771.1 1181.5,764.8 1190.5,760.3 1199.5,761.8 1208.5,766.6 1217.5,768.6 1226.5,753.0 1235.5,755.3 1245.5,765.3 1254.5,775.4 1263.5,777.9 1272.5,771.6 1281.5,774.6 1290.5,749.0 1299.5,725.1 1308.5,722.1 1317.5,747.8 1326.5,735.2 1335.5,720.9 1344.5,727.6 1354.5,735.2 1363.5,739.2 1372.5,732.2 1381.5,728.7 1390.5,735.7 1399.5,737.7 1408.5,731.4 1417.5,735.2" fill="none" stroke="#2962ff" stroke-width="1.2" stroke-linejoin="round"/>
</g>
<line x1="1443.5" y1="3" x2="1443.5" y2="832" stroke="#555" stroke-width="1" shape-rendering="crispEdges"/>
<line x1="4" y1="804.5" x2="1509" y2="804.5" stroke="#555" stroke-width="1" shape-rendering="crispEdges"/>
<line x1="4" y1="708.5" x2="1509" y2="708.5" stroke="#e0e3eb" stroke-width="1" shape-rendering="crispEdges"/>
<text class="ax" x="1452.6" y="51.3" textLength="41" lengthAdjust="spacingAndGlyphs">106.500</text>
<text class="ax" x="1452.6" y="104.7" textLength="41" lengthAdjust="spacingAndGlyphs">106.000</text>
<text class="ax" x="1452.6" y="158.1" textLength="41" lengthAdjust="spacingAndGlyphs">105.500</text>
<text class="ax" x="1452.6" y="264.9" textLength="41" lengthAdjust="spacingAndGlyphs">104.500</text>
<text class="ax" x="1452.6" y="318.3" textLength="41" lengthAdjust="spacingAndGlyphs">104.000</text>
<text class="ax" x="1452.6" y="371.7" textLength="41" lengthAdjust="spacingAndGlyphs">103.500</text>
<text class="ax" x="1452.6" y="425.1" textLength="41" lengthAdjust="spacingAndGlyphs">103.000</text>
<text class="ax" x="1452.6" y="478.5" textLength="41" lengthAdjust="spacingAndGlyphs">102.500</text>
<text class="ax" x="1452.6" y="531.9" textLength="41" lengthAdjust="spacingAndGlyphs">102.000</text>
<text class="ax" x="1452.6" y="585.3" textLength="41" lengthAdjust="spacingAndGlyphs">101.500</text>
<text class="ax" x="1452.6" y="638.7" textLength="41" lengthAdjust="spacingAndGlyphs">101.000</text>
<text class="ax" x="1452.6" y="692.1" textLength="41" lengthAdjust="spacingAndGlyphs">100.500</text>
<text class="ax" x="1452.6" y="722.9" textLength="35" lengthAdjust="spacingAndGlyphs">200.00</text>
<text class="ax" x="1452.6" y="757.9" textLength="22.5" lengthAdjust="spacingAndGlyphs">0.00</text>
<text class="ax" x="1452.6" y="793.4" textLength="41.4" lengthAdjust="spacingAndGlyphs">−200.00</text>
<path d="M1443.0 28.5H1498a2 2 0 0 1 2 2v13a2 2 0 0 1-2 2H1443.0z" fill="#000"/>
<text class="axb" x="1452.7" y="41.5" textLength="40.6" lengthAdjust="spacingAndGlyphs">106.588</text>
<path d="M1443.0 197.0H1498a2 2 0 0 1 2 2v13a2 2 0 0 1-2 2H1443.0z" fill="#000"/>
<text class="axb" x="1452.7" y="210.0" textLength="40.6" lengthAdjust="spacingAndGlyphs">105.020</text>
<path d="M1443.0 485.0H1498a2 2 0 0 1 2 2v13a2 2 0 0 1-2 2H1443.0z" fill="#000"/>
<text class="axb" x="1452.7" y="498.0" textLength="40.6" lengthAdjust="spacingAndGlyphs">102.321</text>
<path d="M1443.0 664.0H1498a2 2 0 0 1 2 2v13a2 2 0 0 1-2 2H1443.0z" fill="#000"/>
<text class="axb" x="1452.7" y="677.0" textLength="40.6" lengthAdjust="spacingAndGlyphs">100.645</text>
<path d="M1443.0 116H1501.8a2 2 0 0 1 2 2v13a2 2 0 0 1-2 2H1443.0z" fill="#d9523f"/>
<text class="axb" x="1451.8" y="128.9" textLength="45.6" lengthAdjust="spacingAndGlyphs">07:54:01</text>
<rect x="1444" y="3" width="65" height="34" fill="#fff" clip-path="url(#cpAll)"/>
<rect x="1447.5" y="7.5" width="57" height="25" rx="4" fill="#fff" stroke="#e0e3eb"/>
<text x="1451.2" y="23.8" font-size="12" fill="#131722" textLength="20.6" lengthAdjust="spacingAndGlyphs">USD</text>
<path d="M1494.8 19.3l2.7 2.7l2.7-2.7" fill="none" stroke="#131722" stroke-width="1.3"/>
<g clip-path="url(#cpTime)">
<text class="tl" x="10.0" y="822">20</text>
<text class="tl" x="91.0" y="822">Dec</text>
<text class="tl" x="191.0" y="822">18</text>
<text class="tl" x="273.0" y="822" font-weight="bold">2024</text>
<text class="tl" x="355.0" y="822">15</text>
<text class="tl" x="473.0" y="822">Feb</text>
<text class="tl" x="582.0" y="822">19</text>
<text class="tl" x="663.0" y="822">Mar</text>
<text class="tl" x="763.0" y="822">18</text>
<text class="tl" x="845.0" y="822">Apr</text>
<text class="tl" x="936.0" y="822">15</text>
<text class="tl" x="1045.0" y="822">May</text>
<text class="tl" x="1163.0" y="822">20</text>
<text class="tl" x="1254.0" y="822">Jun</text>
<text class="tl" x="1344.0" y="822">17</text>
<text class="tl" x="1435.0" y="822">Jul</text>
</g>
<g transform="translate(1476.5 818.5)" fill="none" stroke="#131722" stroke-width="1.3"><path d="M-6.6 0L-3.3 -5.7H3.3L6.6 0L3.3 5.7H-3.3Z"/><circle r="2.4"/></g>
<g transform="translate(1417.5 694.5)"><circle r="9.6" fill="#fff" stroke="#9c27b0" stroke-width="1.4"/><path d="M1.7 -6.2L-4.6 1.1H-0.6L-1.7 6.2L4.6 -1.1H0.6Z" fill="#9c27b0"/><circle cx="6.8" cy="-6" r="3.6" fill="#fff"/><circle cx="6.8" cy="-6" r="2.6" fill="#f23645"/></g>
<g fill="#fff" stroke="#fff" stroke-width="3.4" stroke-linejoin="round"><path d="M15.9 775.2H28.1V789.8H22V780.8H15.9Z"/><circle cx="33" cy="778.1" r="2.95"/><path d="M38.6 775.2H45.8L40 789.8H32.9Z"/></g><g fill="#131722"><path d="M15.9 775.2H28.1V789.8H22V780.8H15.9Z"/><circle cx="33" cy="778.1" r="2.95"/><path d="M38.6 775.2H45.8L40 789.8H32.9Z"/></g>
<g fill="#fff" fill-opacity="0.72"><rect x="9" y="8" width="662" height="23"/><rect x="9" y="33" width="172" height="28"/><rect x="9" y="65" width="134" height="21"/></g>
<circle cx="22" cy="19" r="9" fill="#0c8c6f"/><text x="22" y="24" font-size="14" font-weight="bold" fill="#fff" text-anchor="middle">S</text>
<g font-size="16" fill="#4a4d57"><text x="35.5" y="25.2" textLength="108" lengthAdjust="spacingAndGlyphs">US Dollar Index</text><text x="147" y="25.2">·</text><text x="156.6" y="25.2" textLength="17.2" lengthAdjust="spacingAndGlyphs">1D</text><text x="177.5" y="25.2">·</text><text x="187" y="25.2" textLength="97.6" lengthAdjust="spacingAndGlyphs">PEPPERSTONE</text></g>
<circle cx="309" cy="19" r="8.7" fill="#d6efe9"/><circle cx="309" cy="19" r="3.7" fill="#0c9478"/>
<text x="334.2" y="23.5" font-size="12.4" fill="#5b5e66">O</text>
<text x="344.8" y="23.5" font-size="12.4" fill="#702a24" textLength="43.7" lengthAdjust="spacingAndGlyphs">106.089</text>
<text x="395.9" y="23.5" font-size="12.4" fill="#5b5e66">H</text>
<text x="405.3" y="23.5" font-size="12.4" fill="#702a24" textLength="43.7" lengthAdjust="spacingAndGlyphs">106.119</text>
<text x="457.8" y="23.5" font-size="12.4" fill="#5b5e66">L</text>
<text x="464.2" y="23.5" font-size="12.4" fill="#702a24" textLength="44.3" lengthAdjust="spacingAndGlyphs">105.759</text>
<text x="516.2" y="23.5" font-size="12.4" fill="#5b5e66">C</text>
<text x="525.2" y="23.5" font-size="12.4" fill="#702a24" textLength="44.3" lengthAdjust="spacingAndGlyphs">105.774</text>
<text x="577.6" y="23.5" font-size="12.4" fill="#702a24" textLength="37.1" lengthAdjust="spacingAndGlyphs">−0.309</text>
<text x="621.3" y="23.5" font-size="12.4" fill="#702a24" textLength="47.1" lengthAdjust="spacingAndGlyphs">(−0.29%)</text>
<rect x="12.5" y="35.5" width="61" height="23" rx="4" fill="#fff" stroke="#f23645"/>
<text x="20.7" y="51.9" font-size="12.4" fill="#f23645" textLength="44.4" lengthAdjust="spacingAndGlyphs">105.774</text>
<text x="82" y="51.4" font-size="11" fill="#131722" textLength="26.7" lengthAdjust="spacingAndGlyphs">0.050</text>
<rect x="117.5" y="35.5" width="61" height="23" rx="4" fill="#fff" stroke="#2962ff"/>
<text x="125.5" y="51.9" font-size="12.4" fill="#2962ff" textLength="44.8" lengthAdjust="spacingAndGlyphs">105.824</text>
<text x="13.1" y="79.7" font-size="12" fill="#4b4f5a" textLength="73.8" lengthAdjust="spacingAndGlyphs">SMA 20 close</text>
<text x="96.1" y="79.7" font-size="12" fill="#f23645" textLength="43.9" lengthAdjust="spacingAndGlyphs">105.131</text>
<rect x="13.5" y="89.5" width="28" height="20" rx="3" fill="#fff" stroke="#d1d4dc"/><path d="M23 101.7l4.5-4.3l4.5 4.3" fill="none" stroke="#131722" stroke-width="1.5"/>
<rect x="9" y="719" width="155" height="17" fill="#fff" fill-opacity="0.72"/>
<text x="13.1" y="729.7" font-size="12" fill="#4b4f5a" textLength="101.5" lengthAdjust="spacingAndGlyphs">CCI 20 hlc3 SMA 5</text>
<text x="123.6" y="729.7" font-size="12" fill="#2962ff" textLength="37.7" lengthAdjust="spacingAndGlyphs">103.07</text>
<g clip-path="url(#cpAll)">
<filter id="sh" x="-5%" y="-5%" width="110%" height="115%"><feGaussianBlur stdDeviation="0.9"/></filter>
<g transform="translate(1266 789.5) skewX(-14)"><text x="2.2" y="2.6" fill="#333" fill-opacity="0.6" filter="url(#sh)" style="font-family:'Liberation Sans','Noto Sans CJK SC',sans-serif;font-weight:900;font-size:58px;letter-spacing:2px">海马财经</text><text x="0" y="0" fill="#fff" fill-opacity="0.87" style="font-family:'Liberation Sans','Noto Sans CJK SC',sans-serif;font-weight:900;font-size:58px;letter-spacing:2px">海马财经</text></g>
<g font-weight="bold" font-style="italic" font-size="33.7" letter-spacing="10" fill="#87ceff"><text x="1278" y="829.6" fill="#6a82c8" fill-opacity="0.85">zzrt01.cn</text><text x="1276.5" y="828">zzrt01.cn</text></g>
</g>
</svg></body></html>
